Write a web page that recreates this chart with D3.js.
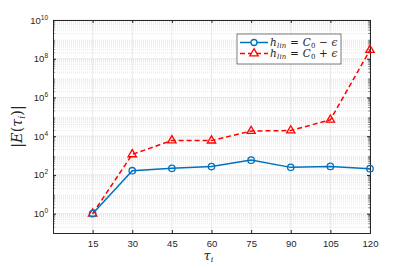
<!DOCTYPE html>
<html>
<head>
<meta charset="utf-8">
<script src="https://cdn.jsdelivr.net/npm/d3@7"></script>
<style>
  body { margin: 0; background: #fff; }
</style>
</head>
<body>
<div id="chart-container"></div>
<script>
const tau = [15, 30, 45, 60, 75, 90, 105, 120];
const errMinus = [1, 165, 218, 270, 580, 245, 275, 210];
const errPlus = [1, 1150, 6000, 5900, 18500, 19500, 70000, 2.8e8];
const xTicks = [15, 30, 45, 60, 75, 90, 105, 120];
const yTicks = [1e0, 1e2, 1e4, 1e6, 1e8, 1e10];

const container = document.getElementById("chart-container");
const sans = "'Liberation Sans', Arial, sans-serif";
const serif = "'DejaVu Serif', 'Liberation Serif', serif";

function errorChart() {
    const width = 409;
    const height = 268;
    const marginTop = 20;
    const marginRight = 39;
    const marginBottom = 35;
    const marginLeft = 53;

    const x = d3.scaleLinear()
        .domain([0, 120])
        .range([marginLeft, width - marginRight]);

    const y = d3.scaleLog()
        .domain([1e-1, 1e10])
        .range([height - marginBottom, marginTop]);

    const svg = d3.create("svg")
        .attr("width", width)
        .attr("height", height);

    // minor log grid
    const minor = [];
    for (let e = -1; e < 10; e++) {
        for (let k = 2; k < 10; k++) minor.push(k * Math.pow(10, e));
    }
    svg.append("g")
        .selectAll("line")
        .data(minor)
        .join("line")
        .attr("x1", marginLeft)
        .attr("x2", width - marginRight)
        .attr("y1", d => y(d))
        .attr("y2", d => y(d))
        .attr("stroke", "#d8d8d8")
        .attr("stroke-width", 0.6)
        .attr("stroke-dasharray", "1,1");

    // major grid
    svg.append("g")
        .selectAll("line")
        .data(yTicks)
        .join("line")
        .attr("x1", marginLeft)
        .attr("x2", width - marginRight)
        .attr("y1", d => y(d))
        .attr("y2", d => y(d))
        .attr("stroke", "#e3e3e3")
        .attr("stroke-width", 0.8);
    svg.append("g")
        .selectAll("line")
        .data(xTicks)
        .join("line")
        .attr("x1", d => x(d))
        .attr("x2", d => x(d))
        .attr("y1", marginTop)
        .attr("y2", height - marginBottom)
        .attr("stroke", "#e3e3e3")
        .attr("stroke-width", 0.8);

    // axes (ticks inside, box)
    const noLabel = () => "";
    svg.append("g")
        .attr("transform", `translate(0,${height - marginBottom})`)
        .call(d3.axisBottom(x).tickValues(xTicks).tickSize(-3).tickPadding(7))
        .call(g => g.select(".domain").attr("stroke", "#262626"))
        .call(g => g.selectAll(".tick line").attr("stroke", "#262626"))
        .call(g => g.selectAll(".tick text")
            .attr("font-size", 9.5).attr("font-family", sans).attr("fill", "#262626"));

    svg.append("g")
        .attr("transform", `translate(0,${marginTop})`)
        .call(d3.axisTop(x).tickValues(xTicks).tickSize(-3).tickFormat(noLabel))
        .call(g => g.select(".domain").attr("stroke", "#262626"))
        .call(g => g.selectAll(".tick line").attr("stroke", "#262626"));

    const yl = svg.append("g")
        .attr("transform", `translate(${marginLeft},0)`)
        .call(d3.axisLeft(y).tickValues(yTicks).tickSize(-3).tickFormat(noLabel))
        .call(g => g.select(".domain").attr("stroke", "#262626"))
        .call(g => g.selectAll(".tick line").attr("stroke", "#262626"));
    yl.selectAll(".minor")
        .data(minor)
        .join("line")
        .attr("x1", 0).attr("x2", 1.8)
        .attr("y1", d => y(d)).attr("y2", d => y(d))
        .attr("stroke", "#262626").attr("stroke-width", 0.6);

    const yr = svg.append("g")
        .attr("transform", `translate(${width - marginRight},0)`)
        .call(d3.axisRight(y).tickValues(yTicks).tickSize(-3).tickFormat(noLabel))
        .call(g => g.select(".domain").attr("stroke", "#262626"))
        .call(g => g.selectAll(".tick line").attr("stroke", "#262626"));
    yr.selectAll(".minor")
        .data(minor)
        .join("line")
        .attr("x1", 0).attr("x2", -1.8)
        .attr("y1", d => y(d)).attr("y2", d => y(d))
        .attr("stroke", "#262626").attr("stroke-width", 0.6);

    // y tick labels 10^n
    const lab = svg.append("g")
        .selectAll("text")
        .data(yTicks)
        .join("text")
        .attr("x", marginLeft - 5)
        .attr("y", d => y(d) + 3.5)
        .attr("text-anchor", "end")
        .attr("font-size", 9.5)
        .attr("font-family", sans)
        .attr("fill", "#262626");
    lab.append("tspan").text("10");
    lab.append("tspan")
        .attr("dy", -4)
        .attr("font-size", 6.5)
        .text(d => Math.round(Math.log10(d)));

    // axis labels
    svg.append("text")
        .attr("x", (width - marginLeft - marginRight) / 2 + marginLeft - 3)
        .attr("y", 260)
        .attr("text-anchor", "middle")
        .attr("font-family", serif)
        .attr("font-style", "italic")
        .attr("font-size", 13)
        .attr("fill", "#262626")
        .text("τ")
        .append("tspan").attr("dy", 2).attr("font-size", 8).text("i");

    svg.append("text")
        .attr("transform", `translate(22,${(height - marginBottom + marginTop) / 2}) rotate(-90)`)
        .attr("text-anchor", "middle")
        .attr("font-family", serif)
        .attr("font-size", 14.5)
        .attr("fill", "#262626")
        .call(t => t.append("tspan").text("|"))
        .call(t => t.append("tspan").attr("font-style", "italic").text("E"))
        .call(t => t.append("tspan").text("("))
        .call(t => t.append("tspan").attr("font-style", "italic").text("τ"))
        .call(t => t.append("tspan").attr("dy", 3).attr("font-size", 9).attr("font-style", "italic").text("i"))
        .call(t => t.append("tspan").attr("dy", -3).text(")|"));

    // series
    const line = d3.line().x(d => x(d[0])).y(d => y(d[1]));
    const blue = "#0072BD";
    const red = "#FF0000";
    const minusPts = tau.map((t, i) => [t, errMinus[i]]);
    const plusPts = tau.map((t, i) => [t, errPlus[i]]);

    svg.append("path")
        .attr("d", line(plusPts))
        .attr("fill", "none")
        .attr("stroke", red)
        .attr("stroke-width", 1.5)
        .attr("stroke-dasharray", "5,3");
    svg.append("path")
        .attr("d", line(minusPts))
        .attr("fill", "none")
        .attr("stroke", blue)
        .attr("stroke-width", 1.5);

    const tri = d3.symbol().type(d3.symbolTriangle).size(30);
    svg.append("g")
        .selectAll("path")
        .data(plusPts)
        .join("path")
        .attr("d", tri)
        .attr("transform", d => `translate(${x(d[0])},${y(d[1])})`)
        .attr("fill", "none")
        .attr("stroke", red)
        .attr("stroke-width", 1.3);
    svg.append("g")
        .selectAll("circle")
        .data(minusPts)
        .join("circle")
        .attr("cx", d => x(d[0]))
        .attr("cy", d => y(d[1]))
        .attr("r", 3.2)
        .attr("fill", "none")
        .attr("stroke", blue)
        .attr("stroke-width", 1.3);

    // legend
    const lg = svg.append("g").attr("transform", "translate(237,34)");
    lg.append("rect")
        .attr("width", 104).attr("height", 30)
        .attr("fill", "#fff").attr("stroke", "#262626").attr("stroke-width", 0.6);
    const items = [
        { color: blue, dash: null, mark: "circle", sign: " − " },
        { color: red, dash: "5,3", mark: "tri", sign: " + " }
    ];
    items.forEach((it, i) => {
        const cy = 8.5 + i * 11;
        lg.append("line")
            .attr("x1", 3).attr("x2", 31).attr("y1", cy).attr("y2", cy)
            .attr("stroke", it.color).attr("stroke-width", 1.5)
            .attr("stroke-dasharray", it.dash);
        if (it.mark === "circle") {
            lg.append("circle").attr("cx", 17).attr("cy", cy).attr("r", 3)
                .attr("fill", "#fff").attr("stroke", it.color).attr("stroke-width", 1.3);
        } else {
            lg.append("path").attr("d", tri)
                .attr("transform", `translate(17,${cy})`)
                .attr("fill", "#fff").attr("stroke", it.color).attr("stroke-width", 1.3);
        }
        const t = lg.append("text")
            .attr("x", 33).attr("y", cy + 3.5)
            .attr("font-family", serif)
            .attr("font-size", 10.5)
            .attr("letter-spacing", 0.2)
            .attr("fill", "#262626");
        t.append("tspan").attr("font-style", "italic").text("h");
        t.append("tspan").attr("font-style", "italic").attr("font-size", 7).attr("dy", 2).text("lin");
        t.append("tspan").attr("dy", -2).text(" = ");
        t.append("tspan").attr("font-style", "italic").text("C");
        t.append("tspan").attr("font-size", 7).attr("dy", 2).text("0");
        t.append("tspan").attr("dy", -2).text(it.sign);
        t.append("tspan").attr("font-style", "italic").text("ϵ");
    });

    return svg.node();
}

container.appendChild(errorChart());
</script>
</body>
</html>
